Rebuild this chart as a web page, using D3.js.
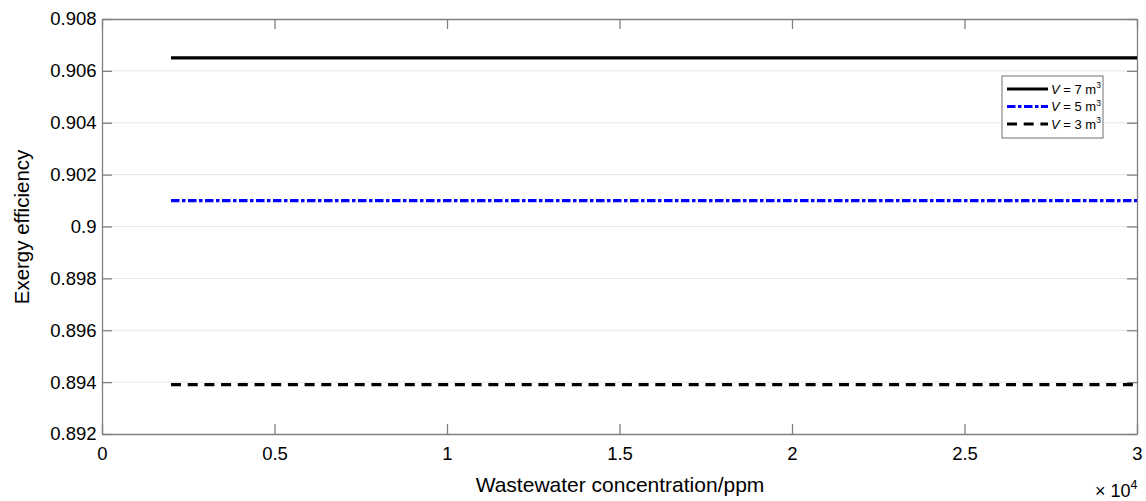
<!DOCTYPE html>
<html><head><meta charset="utf-8">
<script src="https://cdn.jsdelivr.net/npm/d3@7"></script>
<style>body{margin:0;background:#fff;} text{font-family:"Liberation Sans",Arial,sans-serif;}</style>
</head><body>
<svg id="c" width="1146" height="501"></svg>
<script>
const concentration = [2000, 4000, 6000, 8000, 10000, 12000, 14000, 16000, 18000, 20000, 22000, 24000, 26000, 28000, 30000];
const effV7 = [0.9065,0.9065,0.9065,0.9065,0.9065,0.9065,0.9065,0.9065,0.9065,0.9065,0.9065,0.9065,0.9065,0.9065,0.9065];
const effV5 = [0.9010,0.9010,0.9010,0.9010,0.9010,0.9010,0.9010,0.9010,0.9010,0.9010,0.9010,0.9010,0.9010,0.9010,0.9010];
const effV3 = [0.8939,0.8939,0.8939,0.8939,0.8939,0.8939,0.8939,0.8939,0.8939,0.8939,0.8939,0.8939,0.8939,0.8939,0.8939];
const xTicks = [0, 5000, 10000, 15000, 20000, 25000, 30000];
const xTickLabels = ["0", "0.5", "1", "1.5", "2", "2.5", "3"];
const yTicks = [0.892, 0.894, 0.896, 0.898, 0.9, 0.902, 0.904, 0.906, 0.908];
const yTickLabels = ["0.892", "0.894", "0.896", "0.898", "0.9", "0.902", "0.904", "0.906", "0.908"];
const seriesNames = ["7", "5", "3"];

const svg = d3.select("#c");
const L = 102, R = 1137, T = 19, B = 434;
const x = d3.scaleLinear().domain([0, 30000]).range([L, R]);
const y = d3.scaleLinear().domain([0.892, 0.908]).range([B, T]);
const axisCol = "#808080";

// gridlines
svg.append("g").selectAll("line").data(yTicks.slice(1, -1)).join("line")
  .attr("x1", L).attr("x2", R).attr("y1", d => y(d)).attr("y2", d => y(d))
  .attr("stroke", "#e6e6e6").attr("stroke-width", 1);

// axes
const fmtX = (d, i) => xTickLabels[i];
const fmtY = (d, i) => yTickLabels[i];
const gB = svg.append("g").attr("transform", `translate(0,${B})`)
  .call(d3.axisBottom(x).tickValues(xTicks).tickFormat(fmtX).tickSizeInner(-10).tickSizeOuter(0).tickPadding(13));
const gT = svg.append("g").attr("transform", `translate(0,${T})`)
  .call(d3.axisTop(x).tickValues(xTicks).tickFormat("").tickSizeInner(-10).tickSizeOuter(0));
const gL = svg.append("g").attr("transform", `translate(${L},0)`)
  .call(d3.axisLeft(y).tickValues(yTicks).tickFormat(fmtY).tickSizeInner(-10).tickSizeOuter(0).tickPadding(5.5));
const gR = svg.append("g").attr("transform", `translate(${R},0)`)
  .call(d3.axisRight(y).tickValues(yTicks).tickFormat("").tickSizeInner(-10).tickSizeOuter(0));
[gB, gT, gL, gR].forEach(g => {
  g.selectAll("path, line").attr("stroke", axisCol).attr("stroke-width", 1.3);
  g.selectAll("text").attr("fill", "#000").style("font-size", "18.5px").style("font-family", '"Liberation Sans",Arial,sans-serif');
});

// series
const lineGen = d3.line().x(d => x(d[0])).y(d => y(d[1]));
const series = [
  {vals: effV7, color: "#000", dash: null},
  {vals: effV5, color: "#0000ff", dash: "8.5,2.5,3.5,2.5"},
  {vals: effV3, color: "#000", dash: "10,6.7"}
];
series.forEach(s => {
  svg.append("path").datum(concentration.map((c, i) => [c, s.vals[i]]))
    .attr("d", lineGen).attr("fill", "none").attr("stroke", s.color)
    .attr("stroke-width", 3.2).attr("stroke-dasharray", s.dash);
});

// legend
const lg = svg.append("g").attr("transform", "translate(1002,76)");
lg.append("rect").attr("width", 101).attr("height", 62).attr("fill", "#fff").attr("stroke", "#707070").attr("stroke-width", 1);
series.forEach((s, i) => {
  const yy = 13 + i * 17.5;
  lg.append("line").attr("x1", 5).attr("x2", 46).attr("y1", yy).attr("y2", yy)
    .attr("stroke", s.color).attr("stroke-width", 3.2).attr("stroke-dasharray", s.dash);
  const t = lg.append("text").attr("x", 49).attr("y", yy + 4.5).style("font-size", "13px");
  t.append("tspan").style("font-style", "italic").text("V");
  t.append("tspan").text(` = ${seriesNames[i]} m`);
  t.append("tspan").attr("dy", -5.5).style("font-size", "8.5px").text("3");
});

// titles
svg.append("text").attr("x", 620).attr("y", 492).attr("text-anchor", "middle").style("font-size", "21px").text("Wastewater concentration/ppm");
svg.append("text").attr("transform", "translate(29,227) rotate(-90)").attr("text-anchor", "middle").style("font-size", "20.5px").text("Exergy efficiency");
const ex = svg.append("text").attr("x", 1095).attr("y", 497).style("font-size", "18px");
ex.append("tspan").text("× 10");
ex.append("tspan").attr("dy", -8).style("font-size", "12.5px").text("4");
</script>
</body></html>
